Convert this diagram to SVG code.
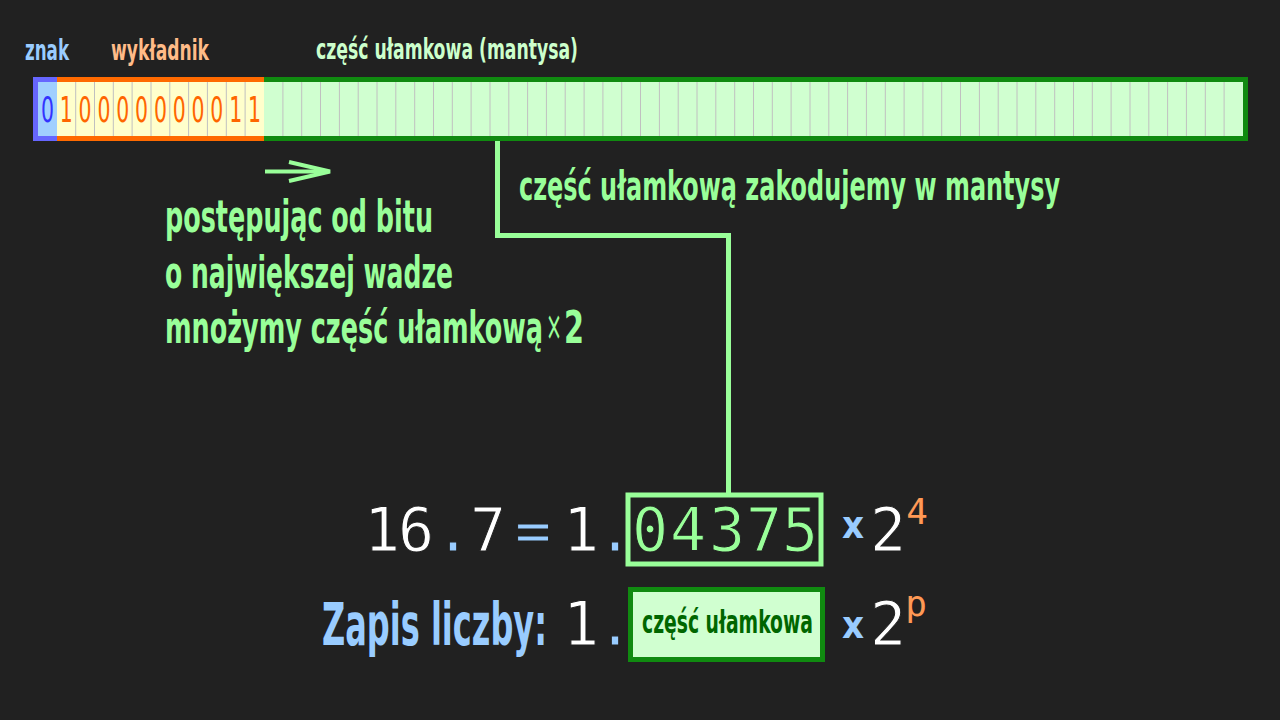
<svg xmlns="http://www.w3.org/2000/svg" width="1280" height="720" viewBox="0 0 1280 720">
<style>
.cond{font-family:'Liberation Sans Narrow','DejaVu Sans Condensed','Roboto Condensed','DejaVu Sans',sans-serif;font-stretch:condensed;font-weight:bold}
.bit{font-family:'Liberation Sans Narrow','DejaVu Sans Condensed','DejaVu Sans',sans-serif;font-stretch:condensed;font-size:35px}
.mono{font-family:'DejaVu Sans Mono','Liberation Mono',monospace;text-anchor:middle;stroke:#212121;stroke-width:1}
.sup{font-family:'DejaVu Sans Mono','Liberation Mono',monospace;text-anchor:middle;fill:#ff9955;font-size:36px}
.div{stroke:#c0c0c0;stroke-width:1}
.conn{fill:none;stroke:#99ff99;stroke-width:5}
</style>
<rect width="1280" height="720" fill="#212121"/>

<g id="labels" class="cond">
<text x="25" y="60" font-size="28" fill="#99ccff" textLength="44" lengthAdjust="spacingAndGlyphs">znak</text>
<text x="111" y="60" font-size="28" fill="#ffbb88" textLength="98" lengthAdjust="spacingAndGlyphs">wykładnik</text>
<text x="316" y="59" font-size="28" fill="#ccffcc" textLength="262" lengthAdjust="spacingAndGlyphs">część ułamkowa (mantysa)</text>
</g>

<g id="sign">
<rect x="33" y="77" width="24" height="64" fill="#6666ff"/>
<rect x="38" y="82" width="19" height="54" fill="#a0cfff"/>
<text class="bit" x="41" y="122" fill="#3333ff" textLength="13" lengthAdjust="spacingAndGlyphs">0</text>
</g>

<g id="exponent">
<rect x="57" y="77" width="207" height="64" fill="#ff6a00"/>
<rect x="57" y="82" width="207" height="54" fill="#ffffcc"/>
<g class="div">
<line x1="75.7" y1="82" x2="75.7" y2="136"/><line x1="94.5" y1="82" x2="94.5" y2="136"/><line x1="113.3" y1="82" x2="113.3" y2="136"/><line x1="132.1" y1="82" x2="132.1" y2="136"/><line x1="151" y1="82" x2="151" y2="136"/><line x1="169.8" y1="82" x2="169.8" y2="136"/><line x1="188.6" y1="82" x2="188.6" y2="136"/><line x1="207.4" y1="82" x2="207.4" y2="136"/><line x1="226.3" y1="82" x2="226.3" y2="136"/><line x1="245.1" y1="82" x2="245.1" y2="136"/>
</g>
<g class="bit" fill="#ff6600">
<text x="59.7" y="122" textLength="13" lengthAdjust="spacingAndGlyphs">1</text><text x="78.6" y="122" textLength="13" lengthAdjust="spacingAndGlyphs">0</text><text x="97.4" y="122" textLength="13" lengthAdjust="spacingAndGlyphs">0</text><text x="116.2" y="122" textLength="13" lengthAdjust="spacingAndGlyphs">0</text><text x="135" y="122" textLength="13" lengthAdjust="spacingAndGlyphs">0</text><text x="153.9" y="122" textLength="13" lengthAdjust="spacingAndGlyphs">0</text><text x="172.7" y="122" textLength="13" lengthAdjust="spacingAndGlyphs">0</text><text x="191.5" y="122" textLength="13" lengthAdjust="spacingAndGlyphs">0</text><text x="210.3" y="122" textLength="13" lengthAdjust="spacingAndGlyphs">0</text><text x="229.2" y="122" textLength="13" lengthAdjust="spacingAndGlyphs">1</text><text x="248" y="122" textLength="13" lengthAdjust="spacingAndGlyphs">1</text>
</g>
</g>

<g id="mantissa">
<rect x="264" y="77" width="984" height="64" fill="#108a10"/>
<rect x="264" y="82" width="979" height="54" fill="#d0ffd0"/>
<path class="div" d="M282.9 82V136M301.7 82V136M320.5 82V136M339.4 82V136M358.2 82V136M377 82V136M395.8 82V136M414.7 82V136M433.5 82V136M452.3 82V136M471.1 82V136M490 82V136M508.8 82V136M527.6 82V136M546.4 82V136M565.2 82V136M584.1 82V136M602.9 82V136M621.7 82V136M640.5 82V136M659.4 82V136M678.2 82V136M697 82V136M715.8 82V136M734.7 82V136M753.5 82V136M772.3 82V136M791.1 82V136M810 82V136M828.8 82V136M847.6 82V136M866.4 82V136M885.3 82V136M904.1 82V136M922.9 82V136M941.7 82V136M960.5 82V136M979.4 82V136M998.2 82V136M1017 82V136M1035.8 82V136M1054.7 82V136M1073.5 82V136M1092.3 82V136M1111.1 82V136M1130 82V136M1148.8 82V136M1167.6 82V136M1186.4 82V136M1205.3 82V136M1224.1 82V136"/>
</g>

<g id="connectors">
<polyline class="conn" points="497.5,141 497.5,235.5 728.5,235.5 728.5,493"/>
<g stroke="#99ff99" stroke-width="4" fill="none">
<line x1="265" y1="171.5" x2="328" y2="171.5"/>
<polyline points="289,162 330,171.5 289,181"/>
</g>
</g>

<g id="note-mantissa" class="cond">
<text x="519" y="200" font-size="40" fill="#99ff99" textLength="541" lengthAdjust="spacingAndGlyphs">część ułamkową zakodujemy w mantysy</text>
</g>

<g id="note-procedure" class="cond" fill="#99ff99" font-size="44">
<text x="165" y="232" textLength="268" lengthAdjust="spacingAndGlyphs">postępując od bitu</text>
<text x="165" y="288" textLength="288" lengthAdjust="spacingAndGlyphs">o największej wadze</text>
<text x="165" y="343" textLength="378" lengthAdjust="spacingAndGlyphs">mnożymy część ułamkową</text>
<text x="546" y="340" font-size="40" font-weight="normal" textLength="16" lengthAdjust="spacingAndGlyphs">×</text>
<text x="564" y="343" textLength="20" lengthAdjust="spacingAndGlyphs">2</text>
</g>

<g id="equation">
<g class="mono" font-size="60">
<text x="382" y="551" fill="#ffffff">1</text>
<text x="416" y="551" fill="#ffffff">6</text>
<text x="453" y="551" fill="#99ccff">.</text>
<text x="488" y="551" fill="#ffffff">7</text>
<text x="533" y="551" fill="#99ccff">=</text>
<text x="581" y="551" fill="#ffffff">1</text>
<text x="615" y="551" fill="#99ccff">.</text>
</g>
<rect x="628" y="495" width="193" height="69" fill="none" stroke="#99ff99" stroke-width="5"/>
<g class="mono" font-size="60" fill="#99ff99">
<text x="650" y="551">0</text><text x="688" y="551">4</text><text x="727" y="551">3</text><text x="764" y="551">7</text><text x="800" y="551">5</text>
</g>
<text class="cond" x="853" y="538" font-size="38" fill="#99ccff" text-anchor="middle">x</text>
<text class="mono" x="888" y="551" font-size="60" fill="#ffffff">2</text>
<text class="sup" x="917" y="524">4</text>
</g>

<g id="format">
<text class="cond" x="322" y="645" font-size="58" fill="#99ccff" textLength="225" lengthAdjust="spacingAndGlyphs">Zapis liczby:</text>
<g class="mono" font-size="60">
<text x="581" y="645" fill="#ffffff">1</text>
<text x="615" y="645" fill="#99ccff">.</text>
</g>
<rect x="630.5" y="589.5" width="192" height="70" fill="#d0ffd0" stroke="#108a10" stroke-width="5"/>
<text class="cond" x="642" y="633" font-size="32" fill="#006600" textLength="171" lengthAdjust="spacingAndGlyphs">część ułamkowa</text>
<text class="cond" x="853" y="638" font-size="38" fill="#99ccff" text-anchor="middle">x</text>
<text class="mono" x="888" y="645" font-size="60" fill="#ffffff">2</text>
<text class="sup" x="916" y="616">p</text>
</g>
</svg>
